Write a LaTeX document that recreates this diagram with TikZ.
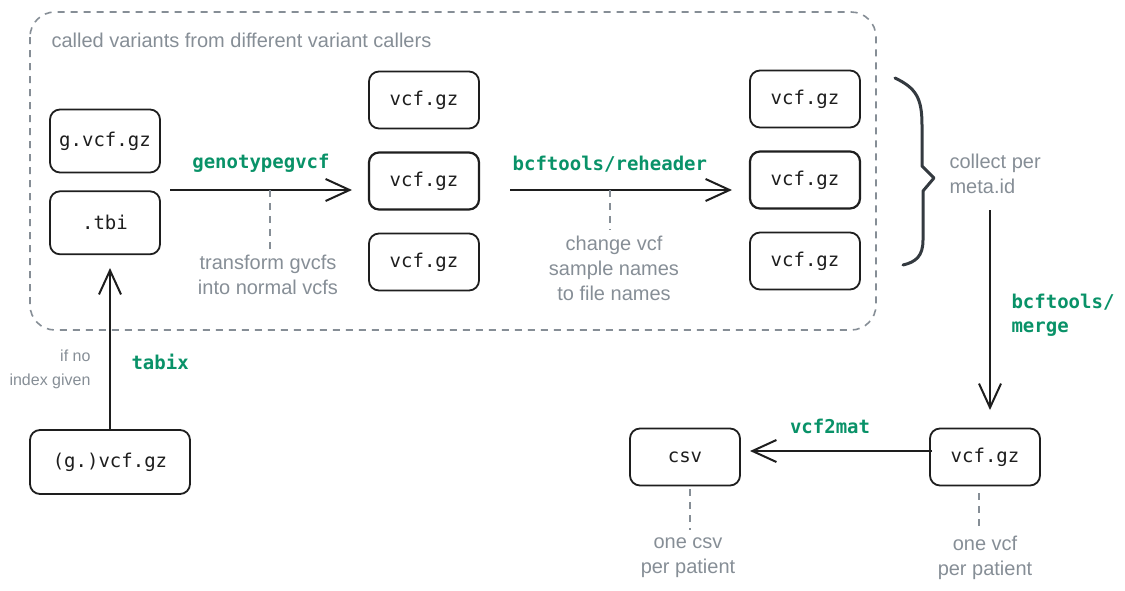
\documentclass[tikz,border=0pt]{standalone}
\usepackage{fontspec}
\setmainfont{Liberation Sans}
\setmonofont{DejaVu Sans Mono}
\usetikzlibrary{arrows.meta,positioning,calc}
\definecolor{ink}{RGB}{30,30,30}
\definecolor{note}{RGB}{134,142,150}
\definecolor{tool}{RGB}{9,146,104}
\definecolor{brc}{RGB}{52,58,64}

\begin{document}
\begin{tikzpicture}[x=1pt,y=-1pt,
  f/.style={draw=ink,line width=1.8pt,rounded corners=10pt,fill=white,minimum width=110pt,minimum height=57pt,font=\fontsize{19}{22}\selectfont\ttfamily,text=ink},
  a/.style={-{Straight Barb[length=24pt,width=22pt,line width=2pt]},line width=2.2pt,color=ink},
  t/.style={font=\fontsize{19}{24}\selectfont\ttfamily\bfseries,text=tool},
  n/.style={font=\fontsize{20}{25}\selectfont,text=note,align=center},
  d/.style={draw=note,line width=1.6pt,dash pattern=on 7pt off 6pt}]
  \useasboundingbox (0,0) rectangle (1125,590);
  % caller outputs
  \draw[d,rounded corners=25pt] (30,12) rectangle (876,330);
  \node[n,anchor=west,font=\fontsize{20}{24}\selectfont] (grp) at (48,40) {called variants from different variant callers};
  \node[f,minimum height=63pt] (gvcf) at (105,141) {g.vcf.gz};
  \node[f,minimum height=63pt,below=17pt of gvcf] (tbi) {.tbi};
  \node[f] (m1) at (424,100) {vcf.gz};
  \node[f,below=22pt of m1,line width=2.2pt] (m2) {vcf.gz};
  \node[f,below=22pt of m2] (m3) {vcf.gz};
  \node[f] (r1) at (805,99) {vcf.gz};
  \node[f,below=22pt of r1,line width=2.2pt] (r2) {vcf.gz};
  \node[f,below=22pt of r2] (r3) {vcf.gz};
  % genotypegvcf
  \coordinate (gs) at (170,190);
  \coordinate (ge) at (352,190);
  \draw[a] (gs) -- node[t,above=13pt,pos=0.5] (lgeno) {genotypegvcf} (ge);
  \node[n] (ngeno) at (268,275) {transform gvcfs\\into normal vcfs};
  \draw[d,shorten >=3pt] (270,190) -- (ngeno.north-|270,0);
  % reheader
  \coordinate (hs) at (510,190);
  \coordinate (he) at (732,190);
  \draw[a] (hs) -- node[t,above=13pt,pos=0.45] (lhead) {bcftools/reheader} (he);
  \node[n] (nhead) at (614,268) {change vcf\\sample names\\to file names};
  \draw[d,shorten >=3pt] (610,190) -- (nhead.north-|610,0);
  % brace
  \draw[brc,line width=3pt,line join=round,line cap=round]
    (895,78) .. controls (916,88) and (922,98) .. (922,125) -- (922,166) -- (934,178) -- (923,191)
    -- (923,240) .. controls (923,256) and (916,262) .. (903,265);
  \node[n,align=left,anchor=north west] (ncoll) at (946,150) {collect per\\meta.id};
  % merge
  \node[f] (pv) at (985,457) {vcf.gz};
  \coordinate (ms) at (990,210);
  \coordinate (me) at (990,410);
  \draw[a] (ms) -- (me);
  \node[t,align=left,anchor=north west] (lmerge) at (1008,291) {bcftools/\\merge};
  % vcf2mat
  \node[f] (csv) at (685,457) {csv};
  \coordinate (vs) at (932,451);
  \coordinate (ve) at (750,451);
  \draw[a] (vs) -- node[t,above=13pt,pos=0.56] (lmat) {vcf2mat} (ve);
  \node[n] (ncsv) at (688,558) {one csv\\per patient};
  \draw[d,shorten >=5pt] (690,489) -- (ncsv.north-|690,0);
  \node[n] (npv) at (985,558) {one vcf\\per patient};
  \draw[d,shorten >=6pt] (979,493) -- (npv.north-|979,0);
  % tabix
  \node[f,minimum width=160pt,minimum height=64pt] (raw) at (110,462) {(g.)vcf.gz};
  \coordinate (te) at (110,268);
  \draw[a] (raw.north) -- (te);
  \node[t,anchor=west] (ltab) at (128,362) {tabix};
  \node[n,align=right,anchor=east,font=\fontsize{16}{24}\selectfont] (ntab) at (94,369) {if no\\index given};
\end{tikzpicture}
\end{document}
